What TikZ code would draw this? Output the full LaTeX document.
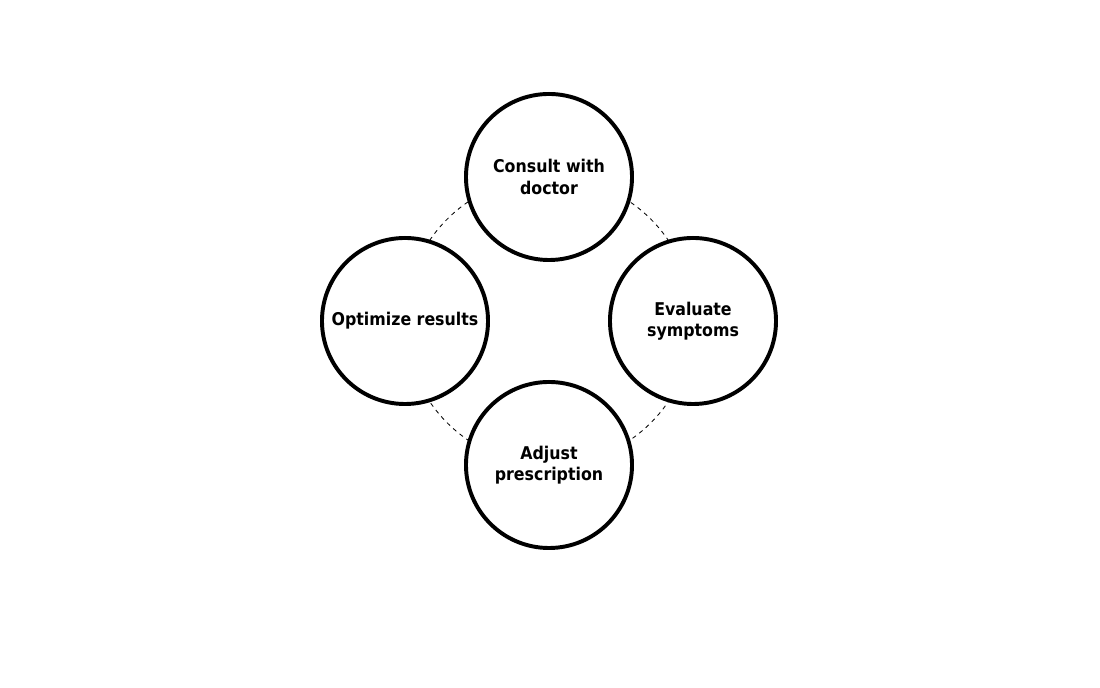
\documentclass[tikz,border=0pt]{standalone}
\usepackage{fontspec}
\setmainfont{DejaVu Sans Condensed}
\usetikzlibrary{positioning}

\begin{document}
\begin{tikzpicture}[x=0.025cm, y=0.025cm,
    stage/.style={circle, draw=black, line width=2.8pt, fill=white,
                  minimum size=4.15cm, align=center,
                  font=\bfseries\fontsize{12.5}{15}\selectfont}]
    \useasboundingbox (0,0) rectangle (1100,688);
    \coordinate (mid) at (549,367);
    % dashed ring behind the stages
    \draw[dashed, line width=0.6pt] (mid) circle[radius=144];

    \node[stage] (consult)  at (549,511) {Consult with\\doctor};
    \node[stage] (evaluate) at (693,367) {Evaluate\\symptoms};
    \node[stage] (adjust)   at (549,223) {Adjust\\prescription};
    \node[stage] (optimize) at (405,367) {Optimize results};
\end{tikzpicture}
\end{document}
